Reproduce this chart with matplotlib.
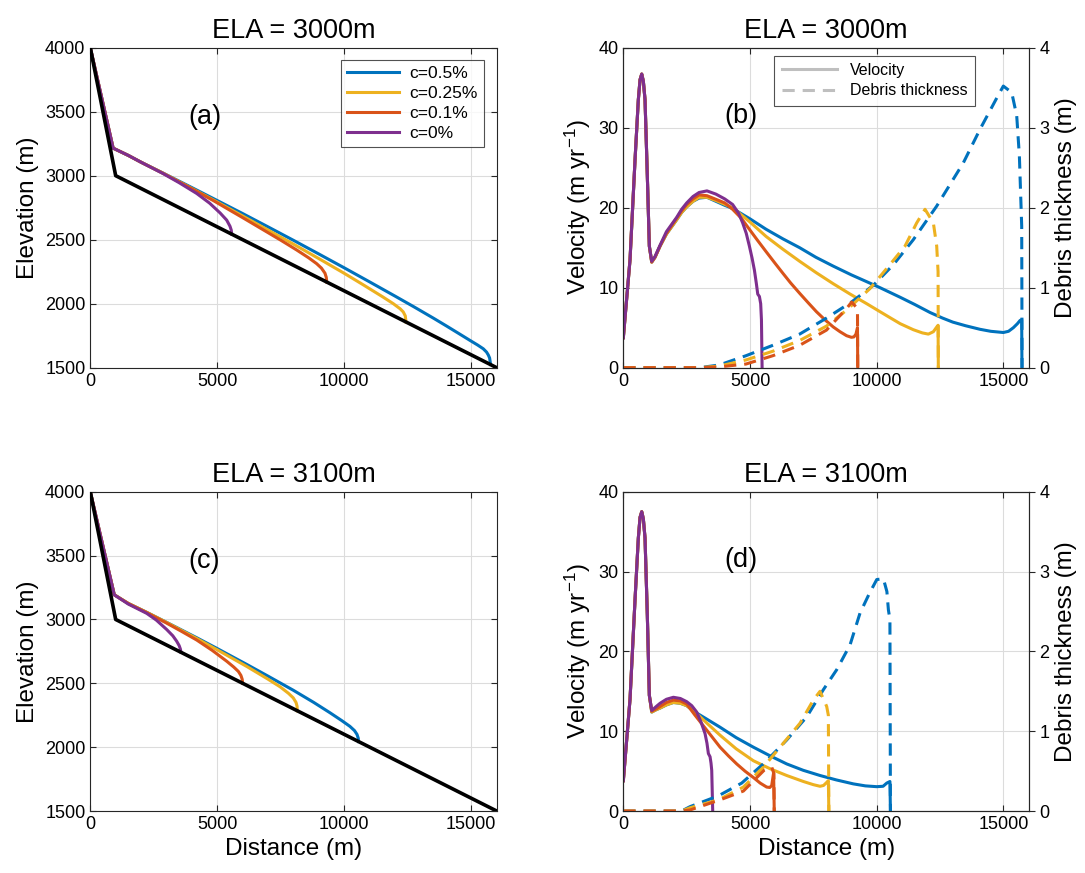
import numpy as np
import matplotlib
matplotlib.use('Agg')
import matplotlib.pyplot as plt

plt.rcParams['font.family'] = ['Liberation Sans', 'DejaVu Sans']
plt.rcParams['mathtext.fontset'] = 'custom'
plt.rcParams['mathtext.rm'] = 'Liberation Sans'
plt.rcParams['mathtext.it'] = 'Liberation Sans'

# colours (matlab default order)
c_blue = '#0072BD'
c_yellow = '#EDB120'
c_red = '#D95319'
c_purple = '#7E2F8E'

labels = ['c=0.5%', 'c=0.25%', 'c=0.1%', 'c=0%']
titles = ['ELA = 3000m', 'ELA = 3000m', 'ELA = 3100m', 'ELA = 3100m']

# ---------------- bed ----------------
x_bed = [0, 1000, 16000]
z_bed = [4000, 3000, 1500]

# ---------------- (a) surface, ELA 3000 ----------------
xa_blue = [0, 900, 1500, 2000, 2870, 4000, 4840, 6000, 7000, 8000, 9000, 10000, 11000, 12000, 12720, 13500,
           14030, 14500, 14950, 15250, 15470, 15600, 15670, 15720, 15760]
za_blue = [4000, 3215, 3158, 3105, 3020, 2907, 2822, 2704, 2600, 2495, 2388, 2280, 2170, 2059, 1978, 1888,
           1825, 1768, 1713, 1677, 1648, 1622, 1599, 1576, 1525]
xa_yellow = [0, 900, 1500, 2000, 2870, 4000, 4840, 6000, 7000, 8000, 9000, 10000, 10750, 11500, 11930, 12200,
             12320, 12400, 12430]
za_yellow = [4000, 3215, 3158, 3105, 3019, 2900, 2811, 2685, 2575, 2465, 2352, 2237, 2147, 2055, 2000, 1960,
             1936, 1905, 1857]
xa_red = [0, 900, 1500, 2000, 2870, 4000, 4840, 6000, 6810, 7500, 8130, 8600, 8910, 9100, 9240, 9290, 9310]
za_red = [4000, 3215, 3158, 3105, 3018, 2898, 2806, 2672, 2577, 2496, 2419, 2358, 2313, 2278, 2238, 2206, 2169]
xa_purple = [0, 900, 1500, 2000, 2870, 3500, 4190, 4700, 5110, 5370, 5500, 5550, 5570]
za_purple = [4000, 3215, 3158, 3105, 3016, 2945, 2861, 2785, 2709, 2653, 2605, 2575, 2543]

# ---------------- (c) surface, ELA 3100 ----------------
xc_blue = [0, 945, 1500, 2220, 3000, 4190, 5000, 6160, 7000, 7990, 8800, 9440, 9900, 10220, 10400, 10500, 10550, 10560]
zc_blue = [4000, 3193, 3125, 3056, 2978, 2857, 2772, 2648, 2556, 2446, 2350, 2269, 2208, 2163, 2130, 2100, 2070, 2044]
xc_yellow = [0, 945, 1500, 2220, 3000, 4190, 5000, 6160, 7000, 7470, 7800, 7990, 8100, 8140, 8150]
zc_yellow = [4000, 3193, 3125, 3056, 2977, 2851, 2762, 2632, 2532, 2473, 2422, 2386, 2350, 2321, 2285]
xc_red = [0, 945, 1500, 2220, 3000, 3600, 4190, 4800, 5370, 5650, 5830, 5930, 5980, 6000]
zc_red = [4000, 3193, 3125, 3054, 2972, 2906, 2839, 2758, 2673, 2627, 2593, 2562, 2532, 2500]
xc_purple = [0, 945, 1500, 2220, 2600, 3010, 3250, 3400, 3500, 3550, 3570]
zc_purple = [4000, 3193, 3120, 3048, 2995, 2921, 2872, 2830, 2795, 2767, 2743]

# ---------------- (b) velocity, ELA 3000 ----------------
xb_blue = [0, 264, 462, 592, 660, 726, 790, 856, 947, 1026, 1120, 1250, 1448, 1700, 2107, 2300, 2500, 2750, 2989, 3300,
           3651, 4000, 4312, 5000, 5635, 6300, 6958, 7600, 8281, 9000, 9604, 10130, 10927, 11500, 12103, 12600, 13000,
           13500, 14075, 14500, 14995, 15200, 15390, 15550, 15654, 15720, 15730]
vb_blue = [3.75, 13.5, 26.0, 33.5, 36.0, 36.7, 35.8, 33.5, 23.95, 15.2, 13.2, 13.8, 15.2, 16.7, 18.5, 19.4, 20.1, 20.8, 21.2, 21.3,
           20.8, 20.3, 19.9, 18.6, 17.3, 16.1, 15.0, 13.8, 12.7, 11.6, 10.75, 10.0, 8.8, 7.9, 6.9, 6.2, 5.7,
           5.25, 4.8, 4.55, 4.4, 4.55, 5.0, 5.5, 5.9, 6.0, 0]
xb_yellow = [0, 264, 462, 592, 660, 726, 790, 856, 947, 1026, 1120, 1250, 1448, 1700, 2107, 2300, 2500, 2750, 2989, 3300,
             3651, 4312, 5000, 5635, 6300, 6958, 7600, 8281, 8950, 9604, 10130, 10500, 10927, 11443, 11800, 12037,
             12234, 12392, 12420, 12430]
vb_yellow = [3.75, 13.5, 26.0, 33.5, 36.0, 36.7, 35.8, 33.5, 23.95, 15.2, 13.2, 13.8, 15.2, 16.7, 18.5, 19.4, 20.1, 20.8, 21.3, 21.3,
             20.9, 20.0, 18.2, 16.4, 14.8, 13.3, 11.9, 10.5, 9.2, 8.0, 7.0, 6.3, 5.5, 4.75, 4.35, 4.2,
             4.5, 5.2, 5.3, 0]
xb_red = [0, 264, 462, 592, 660, 726, 790, 856, 947, 1026, 1120, 1250, 1448, 1700, 2107, 2300, 2500, 2750, 2989, 3300,
          3651, 4000, 4312, 4650, 4974, 5300, 5635, 6000, 6297, 6600, 6958, 7300, 7620, 7950, 8281, 8550, 8810, 9000,
          9100, 9180, 9240, 9250]
vb_red = [3.75, 13.5, 26.0, 33.5, 36.0, 36.7, 35.8, 33.5, 23.95, 15.2, 13.2, 13.8, 15.2, 16.8, 18.7, 19.6, 20.4, 21.1, 21.6, 21.5,
          21.05, 20.6, 19.8, 18.7, 17.3, 15.9, 14.5, 13.0, 11.8, 10.6, 9.3, 8.1, 7.0, 6.0, 5.1, 4.5, 4.0, 3.8,
          3.85, 4.2, 5.0, 0]
xb_purple = [0, 264, 462, 592, 660, 726, 790, 856, 947, 1026, 1120, 1250, 1448, 1700, 2107, 2300, 2502, 2750, 2989, 3300,
             3651, 4000, 4312, 4550, 4709, 4850, 4974, 5080, 5172, 5250, 5304, 5370, 5420, 5450, 5476]
vb_purple = [3.75, 13.5, 26.0, 33.5, 36.0, 36.7, 35.8, 33.5, 23.95, 15.2, 13.3, 13.9, 15.3, 17.0, 18.8, 19.8, 20.6, 21.4, 21.9, 22.1,
             21.7, 21.1, 20.4, 19.3, 18.1, 16.8, 15.2, 13.7, 12.2, 10.5, 9.2, 8.9, 8.0, 6.0, 0]

# ---------------- (b) debris thickness ----------------
xb_blue_d = [0, 3000, 3783, 4841, 5900, 6958, 8016, 9000, 9868, 10663, 11443, 12366, 13416, 14075, 14700, 14995,
             15326, 15523, 15628, 15720, 15735]
db_blue = [0, 0, 0.034, 0.15, 0.28, 0.42, 0.62, 0.82, 1.03, 1.29, 1.60, 2.02, 2.56, 2.98, 3.35, 3.52,
           3.44, 3.15, 2.65, 1.77, 0]
xb_yellow_d = [0, 3000, 3783, 4841, 5900, 6958, 8016, 8810, 9736, 10524, 11116, 11577, 11905, 12234, 12366, 12420, 12430]
db_yellow = [0, 0, 0.02, 0.097, 0.206, 0.34, 0.52, 0.72, 0.99, 1.29, 1.52, 1.81, 1.98, 1.81, 1.52, 1.2, 0]
xb_red_d = [0, 3000, 3783, 4841, 5900, 6958, 8016, 8810, 9010, 9180, 9240, 9250]
db_red = [0, 0, 0.01, 0.046, 0.15, 0.28, 0.47, 0.74, 0.82, 0.76, 0.70, 0]

# ---------------- (d) velocity, ELA 3100 ----------------
xd_blue = [0, 264, 462, 592, 660, 726, 790, 856, 947, 1026, 1121, 1300, 1450, 1700, 1975, 2250, 2501, 2830, 3300, 3817,
           4450, 5131, 5800, 6447, 7100, 7762, 8400, 9077, 9550, 10000, 10250, 10395, 10520, 10540]
vd_blue = [3.8, 14.0, 26.5, 34.2, 36.8, 37.5, 36.6, 34.2, 24.5, 14.5, 12.4, 12.7, 12.9, 13.3, 13.6, 13.5, 13.2, 12.4, 11.5, 10.5,
           9.2, 8.0, 6.9, 5.9, 5.1, 4.45, 3.9, 3.4, 3.15, 3.05, 3.1, 3.5, 3.7, 0]
xd_yellow = [0, 264, 462, 592, 660, 726, 790, 856, 947, 1026, 1121, 1300, 1450, 1700, 1975, 2250, 2501, 2830, 3300, 3817,
             4450, 5131, 5789, 6447, 7104, 7500, 7762, 7900, 8030, 8090, 8110]
vd_yellow = [3.8, 14.0, 26.5, 34.2, 36.8, 37.5, 36.6, 34.2, 24.5, 14.5, 12.4, 12.7, 12.9, 13.3, 13.6, 13.5, 13.2, 12.4, 11.0, 9.5,
             7.8, 6.3, 5.3, 4.45, 3.7, 3.3, 3.1, 3.2, 3.6, 3.8, 0]
xd_red = [0, 264, 462, 592, 660, 726, 790, 856, 947, 1026, 1121, 1300, 1450, 1700, 1975, 2250, 2501, 2830, 3300, 3817,
          4150, 4474, 4800, 5131, 5400, 5657, 5780, 5855, 5930, 5955]
vd_red = [3.8, 14.0, 26.5, 34.2, 36.8, 37.5, 36.6, 34.2, 24.5, 14.5, 12.5, 12.8, 13.1, 13.6, 13.9, 13.8, 13.4, 12.0, 10.1, 8.0,
          6.9, 5.9, 5.0, 4.2, 3.5, 3.0, 2.95, 3.2, 4.8, 0]
xd_purple = [0, 264, 462, 592, 660, 726, 790, 856, 947, 1026, 1121, 1300, 1450, 1700, 1975, 2250, 2501, 2700, 2896, 3060,
             3224, 3300, 3356, 3422, 3460, 3488, 3527]
vd_purple = [3.8, 14.0, 26.5, 34.2, 36.8, 37.5, 36.6, 34.2, 24.5, 14.5, 12.6, 13.1, 13.5, 14.0, 14.25, 14.1, 13.7, 13.2, 12.4, 11.2,
             9.7, 8.5, 7.2, 6.8, 6.0, 5.1, 0]

# ---------------- (d) debris thickness ----------------
xd_blue_d = [0, 2300, 2633, 3751, 4671, 5592, 6447, 7236, 7893, 8419, 8945, 9340, 9700, 10000, 10263, 10400, 10460,
             10520, 10540]
dd_blue = [0, 0, 0.055, 0.19, 0.35, 0.61, 0.89, 1.18, 1.52, 1.77, 2.08, 2.48, 2.72, 2.9, 2.91, 2.75, 2.52,
           2.4, 0]
xd_yellow_d = [0, 2300, 2633, 3751, 4737, 5526, 6184, 6972, 7498, 7762, 8025, 8090, 8110]
dd_yellow = [0, 0, 0.04, 0.14, 0.30, 0.55, 0.80, 1.10, 1.39, 1.50, 1.31, 1.2, 0]
xd_red_d = [0, 2300, 2633, 3817, 4737, 5552, 5855, 5940, 5955]
dd_red = [0, 0, 0.013, 0.14, 0.25, 0.51, 0.55, 0.47, 0]

axcol = '#262626'
lw = 2.2
dash = (0, (4, 2.6))


def style_axes(ax):
    ax.grid(True, color='#dcdcdc', linewidth=0.8)
    ax.set_axisbelow(True)
    for s in ax.spines.values():
        s.set_color(axcol)
        s.set_linewidth(0.8)
    ax.tick_params(direction='in', length=4, width=0.8, colors=axcol, labelsize=13,
                   top=True, labelcolor='black')
    ax.set_xlim(0, 16000)
    ax.set_xticks([0, 5000, 10000, 15000])


def surface_panel(ax, series, letter, title):
    style_axes(ax)
    ax.tick_params(right=True)
    cols = [c_blue, c_yellow, c_red, c_purple]
    for (x, z), c, lab in zip(series, cols, labels):
        ax.plot(x, z, color=c, lw=lw, label=lab, solid_joinstyle='round')
    ax.plot(x_bed, z_bed, color='black', lw=2.6, zorder=5)
    ax.set_ylim(1500, 4000)
    ax.set_yticks([1500, 2000, 2500, 3000, 3500, 4000])
    ax.set_ylabel('Elevation (m)', fontsize=17.5)
    ax.set_title(title, fontsize=19.5, pad=7)
    ax.text(4500, 3460, letter, fontsize=19.5, ha='center', va='center')


def velocity_panel(ax, vel, deb, letter, title):
    style_axes(ax)
    cols = [c_blue, c_yellow, c_red, c_purple]
    for (x, v), c in zip(vel, cols):
        ax.plot(x, v, color=c, lw=lw, solid_joinstyle='round')
    ax.set_ylim(0, 40)
    ax.set_yticks([0, 10, 20, 30, 40])
    ax.set_ylabel('Velocity (m yr$^{-1}$)', fontsize=17.5)
    ax.set_title(title, fontsize=19.5, pad=7)
    ax.text(4650, 31.5, letter, fontsize=19.5, ha='center', va='center')
    ax2 = ax.twinx()
    for (x, d), c in zip(deb, cols[:3]):
        ax2.plot(x, d, color=c, lw=lw, linestyle=dash)
    ax2.set_ylim(0, 4)
    ax2.set_yticks([0, 1, 2, 3, 4])
    ax2.tick_params(direction='out', length=4, width=0.8, colors=axcol, labelsize=13, labelcolor='black')
    for s in ax2.spines.values():
        s.set_color(axcol)
        s.set_linewidth(0.8)
    ax2.set_ylabel('Debris thickness (m)', fontsize=17.5)
    ax2.set_xlim(0, 16000)
    return ax2


fig = plt.figure(figsize=(10.85, 8.73), dpi=100)
ax_a = fig.add_axes([0.0832, 0.5788, 0.3746, 0.3666])
ax_b = fig.add_axes([0.5745, 0.5788, 0.3737, 0.3666])
ax_c = fig.add_axes([0.0832, 0.0710, 0.3746, 0.3657])
ax_d = fig.add_axes([0.5745, 0.0710, 0.3737, 0.3657])

surface_panel(ax_a, [(xa_blue, za_blue), (xa_yellow, za_yellow), (xa_red, za_red), (xa_purple, za_purple)],
              '(a)', titles[0])
leg = ax_a.legend(loc='upper right', bbox_to_anchor=(0.968, 0.962), fontsize=12.5, handlelength=3.0,
                  frameon=True, fancybox=False, edgecolor=axcol, borderpad=0.35, labelspacing=0.28,
                  handletextpad=0.6, borderaxespad=0)
leg.get_frame().set_linewidth(0.8)

surface_panel(ax_c, [(xc_blue, zc_blue), (xc_yellow, zc_yellow), (xc_red, zc_red), (xc_purple, zc_purple)],
              '(c)', titles[2])
ax_c.set_xlabel('Distance (m)', fontsize=17.5)

ax_b2 = velocity_panel(ax_b, [(xb_blue, vb_blue), (xb_yellow, vb_yellow), (xb_red, vb_red), (xb_purple, vb_purple)],
                       [(xb_blue_d, db_blue), (xb_yellow_d, db_yellow), (xb_red_d, db_red)], '(b)', titles[1])
h1, = ax_b2.plot([], [], color='#bfbfbf', lw=lw, label='Velocity')
h2, = ax_b2.plot([], [], color='#bfbfbf', lw=lw, linestyle=dash, label='Debris thickness')
leg2 = ax_b2.legend(handles=[h1, h2], loc='upper right', bbox_to_anchor=(0.8675, 0.975), fontsize=11.5,
                    handlelength=3.5, frameon=True, fancybox=False, edgecolor=axcol, borderpad=0.45,
                    labelspacing=0.35, handletextpad=0.8, borderaxespad=0)
leg2.get_frame().set_linewidth(0.8)

velocity_panel(ax_d, [(xd_blue, vd_blue), (xd_yellow, vd_yellow), (xd_red, vd_red), (xd_purple, vd_purple)],
               [(xd_blue_d, dd_blue), (xd_yellow_d, dd_yellow), (xd_red_d, dd_red)], '(d)', titles[3])
ax_d.set_xlabel('Distance (m)', fontsize=17.5)

fig.savefig('out.png', dpi=100)
